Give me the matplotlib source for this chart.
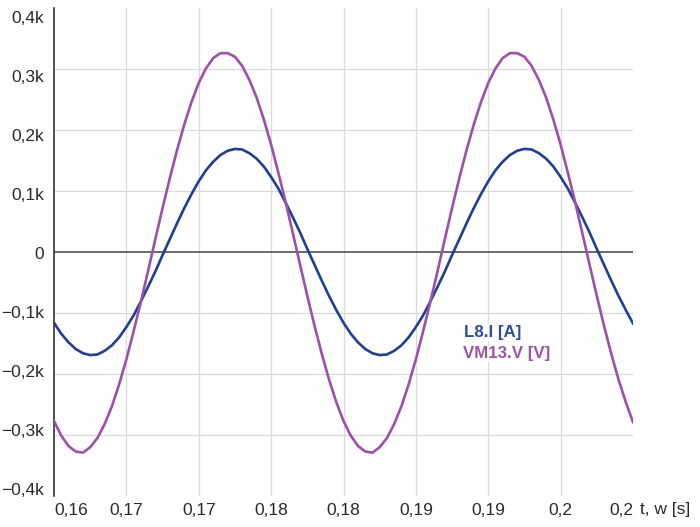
import numpy as np
import matplotlib
matplotlib.use('Agg')
import matplotlib.pyplot as plt
from matplotlib.ticker import FuncFormatter

# sample times: 0.16 s .. 0.20 s, one sample every 0.5 ms
t_start = 0.16
t_step = 0.0005
n_samples = 81

# L8.I [A]
current = [-116, -134, -148, -159, -166, -169, -168, -162, -153, -140,
           -123, -104, -81, -57, -32, -5, 21, 47, 72, 95,
           116, 134, 148, 159, 166, 169, 168, 162, 153, 140,
           123, 104, 81, 57, 32, 5, -21, -47, -72, -95,
           -116, -134, -148, -159, -166, -169, -168, -162, -153, -140,
           -123, -104, -81, -57, -32, -5, 21, 47, 72, 95,
           116, 134, 148, 159, 166, 169, 168, 162, 153, 140,
           123, 104, 81, 57, 32, 5, -21, -47, -72, -95,
           -117]

# VM13.V [V]
voltage = [-277, -301, -318, -327, -329, -320, -305, -282, -253, -217,
           -176, -130, -82, -31, 21, 72, 121, 167, 209, 246,
           277, 301, 318, 326, 326, 320, 305, 282, 253, 217,
           176, 130, 82, 31, -21, -72, -121, -167, -209, -246,
           -277, -301, -318, -327, -329, -320, -305, -282, -253, -217,
           -176, -130, -82, -31, 21, 72, 121, 167, 209, 246,
           277, 301, 318, 326, 326, 320, 305, 282, 253, 217,
           176, 130, 82, 31, -21, -72, -121, -167, -209, -246,
           -279]

x_ticks = [0.16, 0.165, 0.17, 0.175, 0.18, 0.185, 0.19, 0.195, 0.2]
y_ticks = [-400, -300, -200, -100, 0, 100, 200, 300, 400]

t = t_start + t_step * np.arange(n_samples)

plt.rcParams['font.family'] = ['Liberation Sans', 'DejaVu Sans']

fig = plt.figure(figsize=(7, 5.27), dpi=100)
rect = [54 / 700, 31 / 527, 579 / 700, 488 / 527]
ax = fig.add_axes(rect)

blue = '#1f3f90'
purple = '#9e4fab'
txt = '#2a2a2a'

# grid (no line on the outer edges)
for x in x_ticks[1:-1]:
    ax.axvline(x, color='#d9d9d9', lw=0.9, zorder=0)
for y in y_ticks[1:-1]:
    if y != 0:
        ax.axhline(y, color='#d9d9d9', lw=0.9, zorder=0)
ax.axhline(0, color='#404040', lw=1.1, zorder=1)

ax.plot(t, current, color=blue, lw=1.9, zorder=3)
ax.plot(t, voltage, color=purple, lw=1.9, zorder=3)

ax.set_xlim(0.16, 0.2)
ax.set_ylim(-400, 400)

for s in ['top', 'right', 'bottom']:
    ax.spines[s].set_visible(False)
ax.spines['left'].set_color('#333333')
ax.spines['left'].set_linewidth(1.2)


def fmt_y(v, pos):
    if v == 0:
        return '0'
    s = ('%.1f' % (abs(v) / 1000)).replace('.', ',') + 'k'
    return ('\u2212' if v < 0 else '') + s


def fmt_x(v, pos):
    return ('%.2f' % (v + 1e-9)).rstrip('0').replace('.', ',')


ax.set_xticks(x_ticks)
ax.xaxis.set_major_formatter(FuncFormatter(fmt_x))
ax.set_yticks(y_ticks)
ax.set_yticklabels([])
ax.tick_params(axis='both', length=0, labelsize=12.5, colors=txt)
ax.tick_params(axis='x', pad=5)

xl = ax.get_xticklabels()
xl[0].set_ha('left')
xl[-1].set_ha('right')

# y labels in the original sit on a slightly tighter scale than the grid
lab = fig.add_axes(rect, frameon=False)
lab.set_xticks([])
lab.set_ylim(-412.6, 416)
lab.set_yticks(y_ticks)
lab.yaxis.set_major_formatter(FuncFormatter(fmt_y))
lab.tick_params(axis='y', length=0, labelsize=12.5, colors=txt, pad=7)
lab.patch.set_visible(False)

ax.text(1.012, -0.012, 't, w [s]', transform=ax.transAxes, ha='left', va='top',
        fontsize=12.5, color=txt)

ax.text(0.708, 0.335, 'L8.I [A]', transform=ax.transAxes, ha='left', va='center',
        fontsize=12.2, fontweight='bold', color='#2d4f9a',
        bbox=dict(facecolor='white', edgecolor='none', pad=0.5), zorder=4)
ax.text(0.706, 0.291, 'VM13.V [V]', transform=ax.transAxes, ha='left', va='center',
        fontsize=12.2, fontweight='bold', color='#9b55a5',
        bbox=dict(facecolor='white', edgecolor='none', pad=0.5), zorder=4)

fig.savefig('out.png', dpi=100)
